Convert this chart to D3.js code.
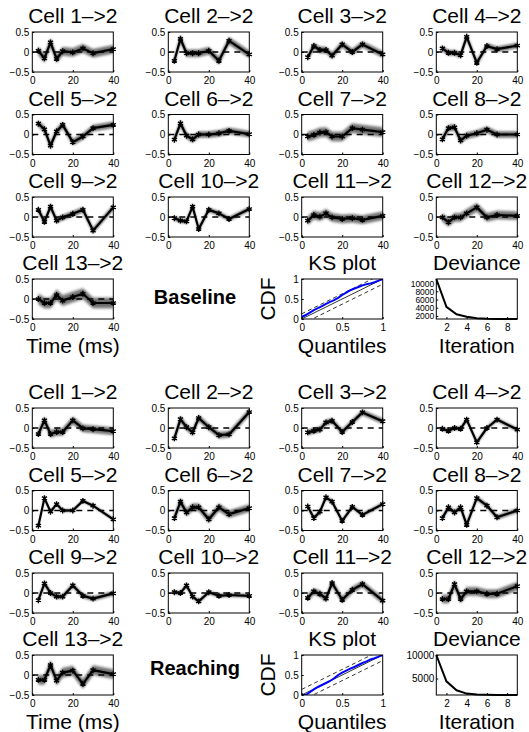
<!DOCTYPE html>
<html>
<head>
<meta charset="utf-8">
<script src="https://cdn.jsdelivr.net/npm/d3@7"></script>
<style>
  body { margin: 0; background: #fff; }
  text { font-family: "Liberation Sans", Arial, Helvetica, sans-serif; fill: #000; }
</style>
</head>
<body>
<div id="chart"></div>
<script>
// lag times (ms) of the coupling kernels
const times = [3, 6, 9, 12, 15, 20, 25, 30, 40];
const cellLabels = d3.range(1, 14).map(i => `Cell ${i}\u2013>2`);
const conditions = ["Baseline", "Reaching"];

// coupling estimates, one row per source cell
const baselineEffects = [
  [0.03, -0.16, 0.24, -0.17, 0.02, -0.01, 0.09, -0.03, 0.07],
  [-0.22, 0.33, -0.03, -0.03, -0.03, 0.03, -0.22, 0.28, -0.06],
  [-0.13, 0.15, 0.05, 0.05, -0.09, 0.19, 0.0, 0.19, -0.06],
  [0.09, -0.02, -0.02, -0.08, 0.38, -0.27, 0.15, 0.07, 0.16],
  [0.27, 0.13, -0.28, 0.08, 0.24, -0.19, -0.05, 0.16, 0.24],
  [-0.13, 0.28, -0.03, -0.12, 0.0, 0.0, 0.03, 0.09, 0.01],
  [-0.05, -0.01, 0.05, 0.06, -0.05, -0.05, 0.16, 0.12, 0.06],
  [-0.12, 0.16, 0.18, -0.15, -0.03, 0.03, 0.12, 0.0, 0.0],
  [0.18, -0.12, 0.26, -0.09, -0.01, 0.08, 0.18, -0.34, 0.24],
  [-0.03, -0.09, -0.11, 0.26, -0.3, 0.18, 0.09, -0.05, 0.2],
  [-0.09, 0.05, 0.01, 0.09, -0.01, -0.05, -0.03, -0.07, 0.03],
  [-0.01, -0.13, -0.01, -0.01, 0.09, 0.24, -0.01, 0.05, 0.03],
  [0.0, -0.1, -0.1, 0.1, -0.04, 0.05, 0.13, -0.1, -0.1]
];
const reachingEffects = [
  [-0.15, 0.19, -0.15, -0.1, -0.1, 0.19, -0.01, -0.03, -0.08],
  [-0.26, 0.22, 0.02, -0.11, 0.25, 0.02, -0.18, -0.16, 0.4],
  [-0.11, -0.07, -0.04, 0.14, 0.18, -0.1, 0.15, 0.39, 0.17],
  [-0.02, -0.07, 0.0, -0.02, 0.21, -0.36, 0.0, 0.21, -0.04],
  [-0.38, 0.31, -0.03, 0.16, 0.0, 0.0, 0.24, 0.12, -0.22],
  [-0.19, 0.22, -0.05, 0.08, 0.08, -0.22, 0.08, -0.09, 0.06],
  [0.1, -0.19, -0.03, 0.33, 0.22, -0.26, 0.09, -0.11, 0.16],
  [-0.19, 0.08, -0.05, 0.08, -0.36, 0.31, 0.12, -0.17, 0.0],
  [-0.18, 0.24, 0.0, -0.09, -0.09, 0.19, -0.07, -0.14, -0.01],
  [0.02, 0.0, 0.19, -0.09, -0.21, 0.02, -0.07, -0.05, -0.07],
  [-0.12, 0.04, -0.02, -0.14, 0.25, -0.17, 0.08, 0.22, -0.19],
  [-0.15, -0.15, 0.22, -0.15, 0.04, 0.04, -0.02, -0.02, 0.17],
  [-0.12, -0.12, 0.25, -0.14, 0.06, 0.11, -0.22, 0.12, 0.02]
];
// half width of the confidence band per cell
const baselineBand = [0.08, 0.07, 0.06, 0.05, 0.06, 0.06, 0.09, 0.06, 0.05, 0.04, 0.08, 0.08, 0.1];
const reachingBand = [0.07, 0.06, 0.05, 0.03, 0.02, 0.07, 0.03, 0.04, 0.04, 0.03, 0.06, 0.08, 0.09];

// KS plot
const ksQuantiles = [0, 0.05, 0.1, 0.15, 0.2, 0.25, 0.3, 0.35, 0.4, 0.45, 0.5, 0.55, 0.6, 0.65, 0.7, 0.75, 0.8, 0.85, 0.9, 0.95, 1];
const ksBaseline = [0.05, 0.1, 0.16, 0.22, 0.27, 0.32, 0.38, 0.43, 0.47, 0.53, 0.6, 0.66, 0.72, 0.76, 0.8, 0.84, 0.87, 0.89, 0.92, 0.96, 1];
const ksReaching = [0, 0, 0.07, 0.14, 0.2, 0.25, 0.3, 0.35, 0.42, 0.5, 0.56, 0.61, 0.66, 0.7, 0.75, 0.8, 0.84, 0.89, 0.92, 0.96, 1];
const ksBounds = [0.13, 0.14];

// deviance by iteration
const iterations = [1, 2, 3, 4, 5, 6, 7, 8, 9];
const devBaseline = [11000, 4200, 2400, 1800, 1450, 1320, 1280, 1260, 1250];
const devReaching = [10000, 4400, 2500, 1800, 1600, 1550, 1520, 1510, 1500];
const devTicks = [[2000, 4000, 6000, 8000, 10000], [5000, 10000]];

// layout
const W = 529, H = 732;
const colX = [32.3, 168.3, 301.7, 436.3];
const rowY = [32, 114.5, 197, 279];
const halfOffset = [0, 376];
const conditionLabelY = [304, 675];
const boxW = 81, boxH = 40;

const svg = d3.select("#chart").append("svg")
  .attr("width", W)
  .attr("height", H);

svg.append("defs").append("filter")
  .attr("id", "soft")
  .attr("x", "-20%").attr("y", "-50%")
  .attr("width", "140%").attr("height", "200%")
  .append("feGaussianBlur")
  .attr("stdDeviation", 1.2);

const tickFont = "10px";
const titleFont = "21px";

function styleAxis(sel) {
  sel.select(".domain").remove();
  sel.selectAll("text").style("font-size", tickFont);
  sel.selectAll("line").attr("stroke", "#000");
}

function addBox(g) {
  g.append("rect")
    .attr("width", boxW)
    .attr("height", boxH)
    .attr("fill", "none")
    .attr("stroke", "#000")
    .attr("stroke-width", 1);
}

function addTitle(g, txt) {
  g.append("text")
    .attr("x", boxW / 2)
    .attr("y", -9)
    .attr("text-anchor", "middle")
    .style("font-size", titleFont)
    .text(txt);
}

function addXLabel(g, txt) {
  g.append("text")
    .attr("x", boxW / 2)
    .attr("y", boxH + 34)
    .attr("text-anchor", "middle")
    .style("font-size", titleFont)
    .text(txt);
}

let clipId = 0;

function drawCell(x0, y0, title, values, band, xLabel) {
  const g = svg.append("g").attr("transform", `translate(${x0},${y0})`);
  const x = d3.scaleLinear().domain([0, 40]).range([0, boxW]);
  const y = d3.scaleLinear().domain([-0.5, 0.5]).range([boxH, 0]);
  const pts = times.map((t, i) => ({ t, v: values[i] }));

  const id = "clip" + clipId++;
  g.append("clipPath").attr("id", id)
    .append("rect").attr("width", boxW).attr("height", boxH);

  const inner = g.append("g").attr("clip-path", `url(#${id})`);
  const outerArea = d3.area()
    .x(d => x(d.t))
    .y0(d => y(d.v - band * 1.5))
    .y1(d => y(d.v + band * 1.5));
  const innerArea = d3.area()
    .x(d => x(d.t))
    .y0(d => y(d.v - band))
    .y1(d => y(d.v + band));
  inner.append("path").datum(pts)
    .attr("d", outerArea)
    .attr("fill", "#aaaaaa")
    .attr("filter", "url(#soft)");
  inner.append("path").datum(pts)
    .attr("d", innerArea)
    .attr("fill", "#6a6a6a")
    .attr("filter", "url(#soft)");

  // zero reference
  g.append("line")
    .attr("x1", x(0)).attr("x2", x(40))
    .attr("y1", y(0)).attr("y2", y(0))
    .attr("stroke", "#000")
    .attr("stroke-width", 1.5)
    .attr("stroke-dasharray", "6,5");

  g.append("path").datum(pts)
    .attr("d", d3.line().x(d => x(d.t)).y(d => y(d.v)))
    .attr("fill", "none")
    .attr("stroke", "#000")
    .attr("stroke-width", 2.2)
    .attr("stroke-linejoin", "round");

  g.selectAll(".mk").data(pts).join("path")
    .attr("class", "mk")
    .attr("transform", d => `translate(${x(d.t)},${y(d.v)})`)
    .attr("d", d3.symbol(d3.symbolAsterisk, 24))
    .attr("fill", "none")
    .attr("stroke", "#000")
    .attr("stroke-width", 1.4);

  addBox(g);
  g.append("g").attr("transform", `translate(0,${boxH})`)
    .call(d3.axisBottom(x).tickValues([0, 20, 40]).tickSizeInner(-2).tickSizeOuter(0).tickPadding(5))
    .call(styleAxis);
  g.append("g")
    .call(d3.axisLeft(y).tickValues([-0.5, 0, 0.5]).tickSizeInner(-2).tickSizeOuter(0).tickPadding(3)
      .tickFormat(d => d === 0 ? "0" : d3.format(".1f")(d)))
    .call(styleAxis);

  addTitle(g, title);
  if (xLabel) addXLabel(g, xLabel);
}

function drawKS(x0, y0, cdf, bound) {
  const g = svg.append("g").attr("transform", `translate(${x0},${y0})`);
  const x = d3.scaleLinear().domain([0, 1]).range([0, boxW]);
  const y = d3.scaleLinear().domain([0, 1]).range([boxH, 0]);
  const id = "clip" + clipId++;
  g.append("clipPath").attr("id", id)
    .append("rect").attr("width", boxW).attr("height", boxH);
  const inner = g.append("g").attr("clip-path", `url(#${id})`);

  inner.append("line")
    .attr("x1", x(0)).attr("y1", y(0)).attr("x2", x(1)).attr("y2", y(1))
    .attr("stroke", "#000").attr("stroke-width", 0.8);
  [bound, -bound].forEach(b => {
    inner.append("line")
      .attr("x1", x(0)).attr("y1", y(b)).attr("x2", x(1)).attr("y2", y(1 + b))
      .attr("stroke", "#000").attr("stroke-width", 0.8)
      .attr("stroke-dasharray", "4,3");
  });
  inner.append("path")
    .datum(ksQuantiles.map((q, i) => [q, cdf[i]]))
    .attr("d", d3.line().x(d => x(d[0])).y(d => y(d[1])))
    .attr("fill", "none")
    .attr("stroke", "#0000ff")
    .attr("stroke-width", 2);

  addBox(g);
  const fmt = d => d === 0.5 ? "0.5" : String(d);
  g.append("g").attr("transform", `translate(0,${boxH})`)
    .call(d3.axisBottom(x).tickValues([0, 0.5, 1]).tickSizeInner(-2).tickSizeOuter(0).tickPadding(5).tickFormat(fmt))
    .call(styleAxis);
  g.append("g")
    .call(d3.axisLeft(y).tickValues([0, 0.5, 1]).tickSizeInner(-2).tickSizeOuter(0).tickPadding(3).tickFormat(fmt))
    .call(styleAxis);

  addTitle(g, "KS plot");
  addXLabel(g, "Quantiles");
  g.append("text")
    .attr("transform", `translate(-27,${boxH / 2}) rotate(-90)`)
    .attr("text-anchor", "middle")
    .style("font-size", titleFont)
    .text("CDF");
}

function drawDeviance(x0, y0, dev, ticks) {
  const g = svg.append("g").attr("transform", `translate(${x0},${y0})`);
  const x = d3.scaleLinear().domain([1, 9]).range([0, boxW]);
  const y = d3.scaleLinear().domain(d3.extent(dev)).range([boxH, 0]);

  g.append("path")
    .datum(iterations.map((it, i) => [it, dev[i]]))
    .attr("d", d3.line().x(d => x(d[0])).y(d => y(d[1])))
    .attr("fill", "none")
    .attr("stroke", "#000")
    .attr("stroke-width", 2);

  addBox(g);
  g.append("g").attr("transform", `translate(0,${boxH})`)
    .call(d3.axisBottom(x).tickValues([2, 4, 6, 8]).tickSizeInner(-2).tickSizeOuter(0).tickPadding(5))
    .call(styleAxis);
  const yAxis = g.append("g")
    .call(d3.axisLeft(y).tickValues(ticks).tickSizeInner(-2).tickSizeOuter(0).tickPadding(2).tickFormat(d3.format("d")))
    .call(styleAxis);
  // the five stacked labels sit very close, as in the source figure
  if (ticks.length > 2) yAxis.selectAll("text").style("font-size", "8.5px").attr("dy", "0.36em");

  addTitle(g, "Deviance");
  addXLabel(g, "Iteration");
}

conditions.forEach((cond, h) => {
  const effects = h === 0 ? baselineEffects : reachingEffects;
  const bands = h === 0 ? baselineBand : reachingBand;
  const off = halfOffset[h];
  effects.forEach((vals, i) => {
    const row = Math.floor(i / 4), col = i % 4;
    drawCell(colX[col], rowY[row] + off, cellLabels[i], vals, bands[i], i === 12 ? "Time (ms)" : null);
  });
  drawKS(colX[2], rowY[3] + off, h === 0 ? ksBaseline : ksReaching, ksBounds[h]);
  drawDeviance(colX[3], rowY[3] + off, h === 0 ? devBaseline : devReaching, devTicks[h]);

  svg.append("text")
    .attr("x", 195)
    .attr("y", conditionLabelY[h])
    .attr("text-anchor", "middle")
    .style("font-size", "20px")
    .style("font-weight", "bold")
    .text(cond);
});
</script>
</body>
</html>
